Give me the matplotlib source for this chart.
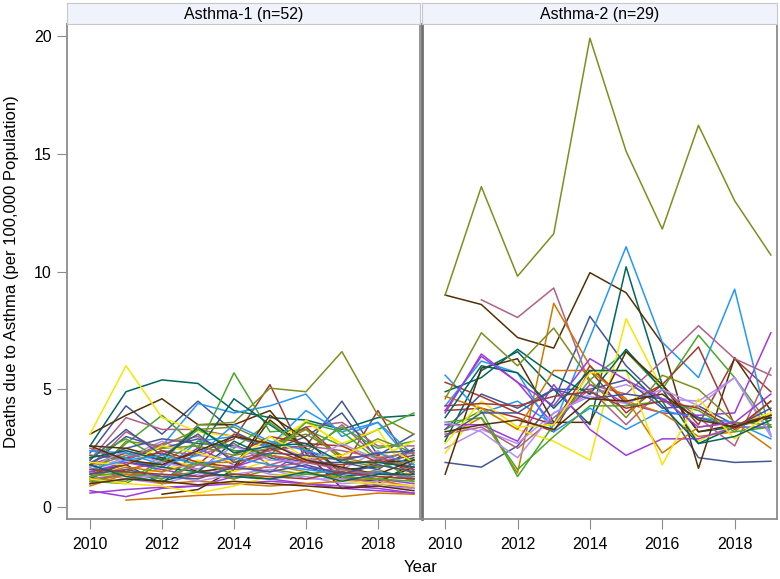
import numpy as np
import matplotlib
matplotlib.use("Agg")
import matplotlib.pyplot as plt

plt.rcParams['font.family'] = ['Liberation Sans', 'DejaVu Sans']

years = np.arange(2010, 2020)
nan = np.nan

# SAS HTMLBlue line colours, cycled by group
palette = ['#445694', '#A23A2E', '#01665E', '#543005', '#9D3CDB', '#7F8E1F',
           '#2597FA', '#B26084', '#D17800', '#47A82A', '#B38EF3', '#F9E500']

panel_titles = ['Asthma-1 (n=52)', 'Asthma-2 (n=29)']

# deaths per 100,000, one row per state, 2010..2019
asthma1_rates = [
    [2.3, 4.3, 3.1, 4.5, 3.2, 2.5, 2.6, 4.5, 2.2, 3.1],
    [1.0, 1.6, 1.9, 2.3, 2.9, 5.2, 2.0, 1.6, 4.1, 1.5],
    [2.6, 4.9, 5.4, 5.25, 4.1, 3.8, 3.7, 3.3, 3.8, 3.9],
    [3.1, 3.9, 4.6, 3.5, 3.5, 4.1, 2.3, 0.8, 1.0, 1.9],
    [0.7, 0.45, 0.8, 0.9, 1.0, 1.1, 1.0, 0.9, 0.8, 0.6],
    [1.2, 1.1, 2.0, 3.5, 3.6, 5.05, 4.9, 6.6, 3.9, 3.1],
    [2.2, 2.0, 2.6, 4.4, 4.0, 4.3, 4.8, 3.0, 3.6, 2.2],
    [2.0, 3.8, 3.3, 3.3, 3.0, 2.5, 3.4, 3.6, 2.6, 2.6],
    [nan, 0.3, 0.4, 0.5, 0.55, 0.55, 0.75, 0.45, 0.6, 0.55],
    [1.4, 2.7, 3.9, 2.5, 5.7, 3.2, 3.3, 2.6, 3.3, 4.0],
    [1.6, 2.1, 2.8, 2.2, 2.0, 2.7, 2.1, 1.6, 2.4, 1.4],
    [3.1, 6.0, 3.8, 3.2, 3.0, 2.7, 3.6, 2.7, 3.3, 1.0],
    [1.8, 3.0, 2.5, 2.9, 2.4, 2.4, 3.0, 4.0, 2.0, 2.4],
    [2.2, 2.1, 2.3, 1.8, 3.1, 2.6, 3.4, 2.1, 2.2, 1.4],
    [1.5, 1.8, 1.0, 2.4, 4.6, 3.5, 2.5, 1.6, 1.7, 2.1],
    [nan, nan, 0.55, 0.75, 1.6, 3.7, 2.5, 1.2, 1.1, 1.7],
    [1.3, 2.0, 1.7, 2.5, 1.8, 1.5, 2.4, 1.3, 1.0, 0.8],
    [1.2, 2.8, 2.6, 3.3, 3.4, 2.7, 3.1, 2.2, 2.9, 2.3],
    [2.4, 2.1, 1.5, 2.8, 3.0, 2.6, 4.1, 3.2, 3.6, 1.8],
    [1.7, 3.2, 2.4, 2.2, 2.7, 1.8, 2.2, 3.5, 2.1, 1.7],
    [1.0, 1.5, 2.1, 1.6, 1.2, 1.8, 1.5, 1.2, 1.6, 1.1],
    [2.1, 2.9, 2.0, 3.3, 2.5, 3.6, 2.4, 3.4, 2.5, 2.8],
    [1.5, 1.2, 1.0, 1.4, 1.8, 1.4, 1.3, 1.0, 1.1, 0.9],
    [1.4, 1.3, 1.6, 2.0, 1.5, 2.0, 3.7, 2.6, 2.1, 2.8],
    [1.9, 2.5, 2.9, 2.7, 2.6, 2.2, 1.9, 1.9, 1.6, 2.5],
    [1.8, 2.3, 2.0, 1.6, 2.2, 3.0, 2.7, 2.6, 1.9, 2.2],
    [1.2, 1.9, 1.7, 1.5, 2.8, 2.1, 1.7, 1.3, 1.5, 1.3],
    [2.6, 2.5, 2.1, 1.5, 1.7, 3.9, 2.9, 1.4, 1.9, 2.0],
    [1.5, 1.9, 1.6, 1.3, 1.7, 2.2, 1.7, 1.5, 1.2, 1.0],
    [1.7, 2.2, 2.5, 2.6, 2.2, 2.5, 3.3, 2.0, 1.7, 2.0],
    [2.4, 2.3, 1.8, 2.2, 3.5, 2.8, 2.4, 2.0, 2.3, 1.8],
    [2.5, 2.0, 2.7, 3.0, 2.0, 2.4, 2.6, 2.4, 2.1, 2.3],
    [1.3, 1.7, 1.5, 1.9, 1.9, 2.2, 2.0, 2.1, 1.8, 1.5],
    [1.1, 1.0, 1.9, 2.8, 2.4, 2.2, 3.6, 3.2, 2.0, 1.2],
    [1.7, 2.4, 1.9, 1.6, 2.6, 2.0, 1.9, 2.7, 2.0, 1.6],
    [1.9, 1.8, 2.6, 2.3, 1.9, 3.0, 2.1, 2.2, 2.8, 1.9],
    [2.0, 3.3, 2.2, 3.1, 1.9, 2.3, 2.2, 2.0, 2.3, 2.4],
    [1.4, 1.8, 2.4, 1.9, 1.7, 2.5, 1.9, 1.8, 2.0, 1.6],
    [2.1, 2.4, 2.0, 3.4, 2.3, 2.6, 2.7, 1.9, 1.9, 1.7],
    [2.6, 2.0, 1.8, 2.4, 3.0, 2.7, 2.0, 1.7, 1.4, 2.0],
    [0.6, 0.75, 0.85, 0.9, 1.3, 1.2, 1.0, 0.8, 0.7, 0.6],
    [1.1, 1.4, 1.3, 1.5, 1.2, 1.6, 1.4, 1.6, 1.3, 1.2],
    [1.6, 2.0, 2.2, 1.8, 2.1, 1.8, 1.6, 1.4, 1.5, 1.2],
    [1.2, 1.4, 1.2, 1.8, 1.6, 1.7, 1.9, 1.6, 1.4, 1.3],
    [0.9, 1.4, 1.0, 1.1, 1.0, 0.9, 1.0, 1.1, 1.2, 0.8],
    [1.3, 1.5, 1.2, 1.9, 1.4, 1.2, 1.4, 1.3, 1.2, 1.1],
    [1.0, 1.2, 1.4, 1.1, 1.4, 1.6, 1.2, 1.2, 0.9, 0.8],
    [1.2, 1.0, 0.9, 0.6, 0.9, 1.3, 1.5, 1.1, 1.0, 0.9],
    [1.4, 1.6, 1.3, 1.2, 1.7, 1.5, 1.8, 1.4, 1.8, 1.5],
    [1.6, 1.5, 1.4, 1.3, 1.4, 1.3, 1.2, 1.5, 1.3, 1.2],
    [1.8, 1.3, 1.1, 1.5, 1.3, 1.2, 1.5, 1.1, 1.4, 1.4],
    [1.0, 1.2, 1.1, 0.95, 1.1, 1.0, 0.9, 0.8, 0.9, 0.7],
]

asthma2_rates = [
    [1.9, 1.7, 2.6, 4.5, 8.1, 6.0, 4.5, 2.1, 1.9, 1.95],
    [4.1, 4.2, 3.8, 3.2, 5.8, 4.0, 5.2, 3.5, 6.3, 4.9],
    [2.8, 5.8, 6.6, 5.0, 3.5, 10.2, 5.2, 3.2, 3.4, 3.8],
    [9.0, 8.6, 7.2, 6.75, 9.95, 9.1, 6.95, 1.65, 6.35, 4.1],
    [4.0, 6.5, 5.3, 3.5, 5.2, 4.4, 4.0, 3.9, 4.0, 7.4],
    [9.0, 13.6, 9.8, 11.6, 19.9, 15.1, 11.8, 16.2, 13.0, 10.7],
    [5.6, 4.0, 4.5, 3.5, 7.2, 11.05, 7.0, 5.5, 9.25, 3.0],
    [nan, 8.8, 8.05, 9.3, 5.2, 4.8, 6.2, 7.7, 6.3, 5.6],
    [3.0, 3.8, 1.45, 8.65, 6.0, 4.5, 4.0, 3.0, 3.2, 4.5],
    [3.3, 4.1, 1.3, 3.5, 5.4, 6.6, 5.0, 7.3, 5.5, 3.4],
    [2.5, 3.3, 2.7, 4.0, 4.8, 5.2, 4.6, 4.5, 5.5, 3.0],
    [2.3, 4.2, 3.3, 2.8, 2.0, 8.0, 5.0, 2.8, 3.5, 4.0],
    [3.3, 4.8, 4.2, 5.0, 5.0, 5.4, 4.2, 4.3, 3.5, 3.8],
    [5.3, 4.7, 4.0, 3.5, 6.0, 4.4, 5.2, 6.8, 3.5, 3.9],
    [4.9, 5.5, 6.7, 5.6, 4.8, 6.7, 5.0, 2.7, 3.4, 3.9],
    [1.4, 5.9, 6.3, 3.6, 3.6, 6.6, 5.2, 3.2, 3.5, 3.8],
    [3.5, 3.5, 2.8, 5.2, 3.3, 2.2, 2.9, 2.9, 3.4, 3.4],
    [4.6, 7.4, 6.0, 7.6, 5.4, 3.8, 5.6, 5.0, 3.6, 3.5],
    [4.3, 6.2, 5.7, 3.2, 4.2, 3.3, 4.1, 3.8, 3.6, 2.9],
    [3.1, 3.4, 2.5, 3.8, 5.0, 3.5, 5.0, 3.8, 2.6, 5.9],
    [4.7, 4.2, 3.3, 5.8, 5.8, 4.6, 2.3, 3.4, 3.6, 2.5],
    [3.6, 3.8, 1.6, 3.0, 4.3, 4.3, 4.5, 4.1, 3.2, 3.4],
    [3.6, 3.2, 2.1, 4.0, 4.7, 4.4, 5.0, 4.3, 5.5, 3.1],
    [2.7, 4.5, 3.4, 3.5, 5.7, 5.8, 1.8, 4.6, 2.9, 4.0],
    [3.0, 4.0, 4.0, 5.0, 4.6, 4.8, 4.6, 3.8, 3.4, 4.2],
    [4.3, 4.4, 4.3, 4.7, 4.9, 4.2, 4.5, 4.2, 3.3, 4.5],
    [3.8, 6.0, 5.7, 4.2, 5.8, 5.8, 4.3, 2.7, 3.0, 3.7],
    [3.2, 3.5, 3.7, 3.3, 4.6, 4.5, 4.8, 3.7, 3.4, 3.9],
    [4.1, 6.4, 5.3, 4.3, 6.3, 5.4, 4.6, 3.4, 3.6, 4.8],
]

fig = plt.figure(figsize=(7.8, 5.79), dpi=100)
W, H = 780.0, 579.0
panels = [(67, 420), (422, 777)]
top_px, bot_px, strip_top = 24, 519, 3
frame = '#8C8C8C'

for k, (rates, (x0, x1)) in enumerate(zip([asthma1_rates, asthma2_rates], panels)):
    ax = fig.add_axes([x0 / W, 1 - bot_px / H, (x1 - x0) / W, (bot_px - top_px) / H])
    for i, row in enumerate(rates):
        ax.plot(years, row, color=palette[i % 12], lw=1.1)
    ax.set_xlim(2009.36, 2019.17)
    ax.set_ylim(-0.5, 20.5)
    ax.set_xticks([2010, 2012, 2014, 2016, 2018])
    ax.tick_params(axis='x', colors=frame, labelcolor='black', labelsize=11.5,
                   length=7, pad=6)
    if k == 0:
        ax.set_yticks([0, 5, 10, 15, 20])
        ax.tick_params(axis='y', colors=frame, labelcolor='black', labelsize=11.5,
                       length=7, pad=4)
    else:
        ax.set_yticks([])
    for s in ax.spines.values():
        s.set_color(frame)
        s.set_linewidth(1.3)
    if k == 1:
        ax.spines['left'].set_color('#707070')
        ax.spines['left'].set_linewidth(2)

    # header strip
    sx = fig.add_axes([x0 / W, 1 - top_px / H, (x1 - x0) / W, (top_px - strip_top) / H])
    sx.set_facecolor('#F0F3FB')
    sx.set_xticks([])
    sx.set_yticks([])
    for s in sx.spines.values():
        s.set_color('#C8C8C8')
    sx.text(0.5, 0.45, panel_titles[k], ha='center', va='center', fontsize=11.5,
            transform=sx.transAxes)

fig.text(12 / W, 1 - ((top_px + bot_px) / 2) / H,
         'Deaths due to Asthma (per 100,000 Population)',
         rotation=90, ha='center', va='center', fontsize=12)
fig.text(421 / W, 1 - 567 / H, 'Year', ha='center', va='center', fontsize=12)

fig.savefig('out.png', dpi=100)
